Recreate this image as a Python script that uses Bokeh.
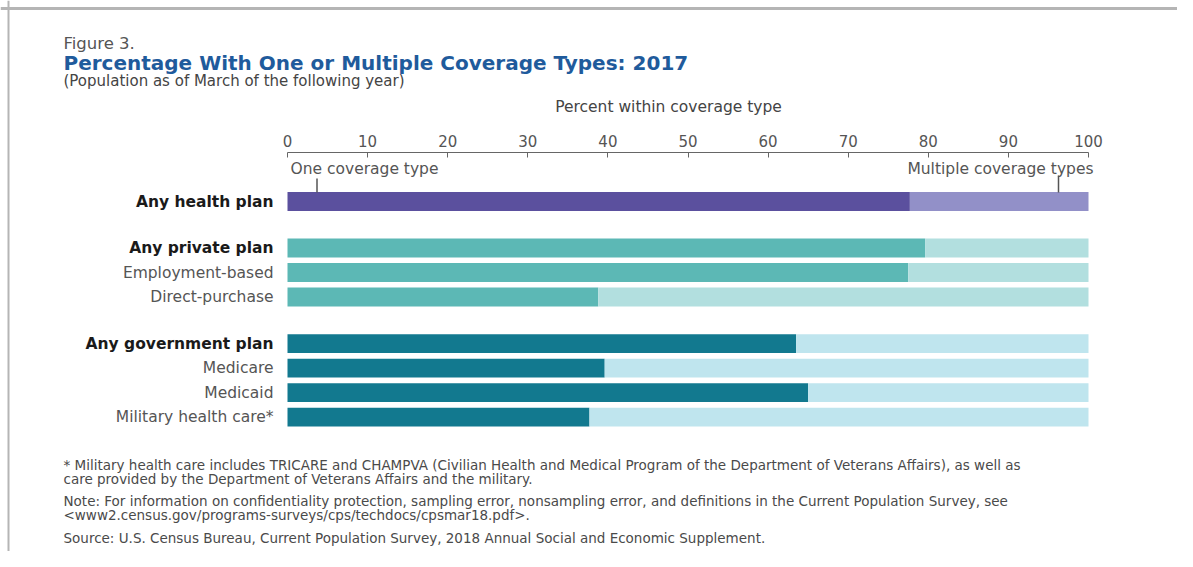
from bokeh.plotting import figure
from bokeh.models import Range1d, LinearAxis, FixedTicker, Label, ColumnDataSource, Span
from bokeh.core.properties import value
from bokeh.embed import file_html
from bokeh.resources import INLINE

# ---------------- data ----------------
categories = ["Any health plan", "Any private plan", "Employment-based", "Direct-purchase",
              "Any government plan", "Medicare", "Medicaid", "Military health care*"]
groups = [0, 1, 1, 1, 2, 2, 2, 2]
is_header = [True, True, False, False, True, False, False, False]
one_type = [77.7, 79.6, 77.5, 38.8, 63.5, 39.6, 65.0, 37.7]   # percent with one coverage type
total = [100, 100, 100, 100, 100, 100, 100, 100]
tick_values = [0, 10, 20, 30, 40, 50, 60, 70, 80, 90, 100]

dark_colors = ["#5b509e", "#5cb8b5", "#12798f"]
light_colors = ["#9290c8", "#b2dfdf", "#bfe5ee"]

# ---------------- layout helpers (picture pixels -> data) ----------------
W, H = 1177, 551
X0, SX = 287, 8.01        # px of 0 %, px per percent
Y0, SY = 201, 24.5        # px of first row center, px per row
GROUP_GAP = 0.9

def xpx(px):
    return (px - X0) / SX

def ypx(py):
    return (py - Y0) / SY

FONT_NAME = "DejaVu Sans"
FONT = value(FONT_NAME)

rows_y = [i + g * GROUP_GAP for i, g in enumerate(groups)]
src = ColumnDataSource(dict(
    y=rows_y,
    label=categories,
    one=one_type,
    total=total,
    dark=[dark_colors[g] for g in groups],
    light=[light_colors[g] for g in groups],
    style=["bold" if h else "normal" for h in is_header],
    tcolor=["#1a1a1a" if h else "#555555" for h in is_header],
))

p = figure(width=W, height=H,
           x_range=Range1d(xpx(0), xpx(W)),
           y_range=Range1d(ypx(H), ypx(0)),
           output_backend="svg", toolbar_location=None,
           x_axis_type=None, y_axis_type=None, min_border=0)
p.outline_line_color = None
p.background_fill_color = "white"
p.border_fill_color = "white"

BAR_H = 0.77
p.hbar(y="y", left=0, right="one", height=BAR_H, fill_color="dark", line_color=None, source=src)
p.hbar(y="y", left="one", right="total", height=BAR_H, fill_color="light", line_color=None, source=src)

p.text(x=xpx(273), y="y", text="label", source=src, text_align="right", text_baseline="middle",
       text_font=FONT, text_font_size="15.5px", text_font_style="style", text_color="tcolor")

# top axis
ax = LinearAxis(fixed_location=ypx(152), ticker=FixedTicker(ticks=tick_values), bounds=(0, 100),
                axis_line_color="#666666", axis_line_width=1.2,
                major_tick_line_color="#666666", major_tick_in=5, major_tick_out=0,
                minor_tick_line_color=None,
                major_label_text_font=FONT_NAME, major_label_text_font_size="15px",
                major_label_text_color="#555555", major_label_standoff=6)
p.add_layout(ax, "above")

# pointers
p.segment(x0=[xpx(316.5), xpx(1058)], y0=[ypx(178), ypx(175)],
          x1=[xpx(316.5), xpx(1058)], y1=[ypx(192), ypx(192)],
          line_color="#555555", line_width=1.5)

def lab(x, y, text, size, color="#555555", style="normal", align="left"):
    p.add_layout(Label(x=xpx(x), y=ypx(y), text=text, text_font=FONT_NAME, text_font_size=size,
                       text_color=color, text_font_style=style, text_align=align,
                       text_baseline="middle"))

lab(63, 43, "Figure 3.", "16.5px", "#555555")
lab(63, 62, "Percentage With One or Multiple Coverage Types: 2017", "20px", "#1f5b9c", "bold")
lab(63, 80, "(Population as of March of the following year)", "15px", "#444444")
lab(668, 106, "Percent within coverage type", "15.5px", "#444444", align="center")
lab(290, 168, "One coverage type", "15.5px", "#555555")
lab(1093, 168, "Multiple coverage types", "15.5px", "#555555", align="right")

FN = "13.5px"
FN_COLOR = "#4a4a4a"
lab(63, 464, "* Military health care includes TRICARE and CHAMPVA (Civilian Health and Medical Program of the Department of Veterans Affairs), as well as", FN, FN_COLOR)
lab(63, 478, "care provided by the Department of Veterans Affairs and the military.", FN, FN_COLOR)
lab(63, 500, "Note: For information on confidentiality protection, sampling error, nonsampling error, and definitions in the Current Population Survey, see", FN, FN_COLOR)
lab(63, 514, "<www2.census.gov/programs-surveys/cps/techdocs/cpsmar18.pdf>.", FN, FN_COLOR)
lab(63, 537, "Source: U.S. Census Bureau, Current Population Survey, 2018 Annual Social and Economic Supplement.", FN, FN_COLOR)

# frame lines (top and left)
p.add_layout(Span(location=ypx(8), dimension="width", line_color="#b5b5b5", line_width=3))
p.add_layout(Span(location=xpx(8), dimension="height", line_color="#b5b5b5", line_width=2))

open("out.html", "w").write(file_html(p, INLINE))
